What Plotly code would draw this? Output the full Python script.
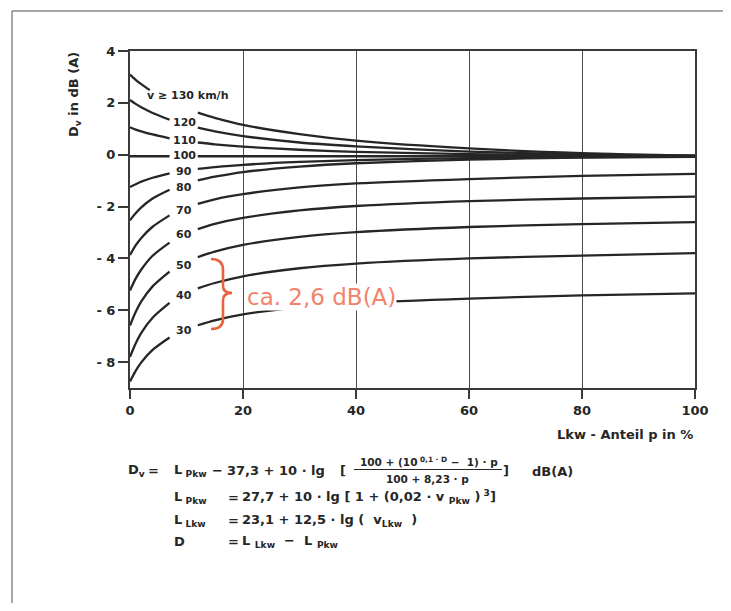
import plotly.graph_objects as go

# ---------------- data ----------------
speeds = ["130", "120", "110", "100", "90", "80", "70", "60", "50", "40", "30"]

p_left_130 = [0, 1, 2, 3.5]
p_left = [0, 1, 2, 4, 7]
p_right = [12, 15, 20, 30, 40, 60, 80, 100]

dv_left = {
    "130": [3.09, 2.89, 2.72, 2.49],
    "120": [2.11, 1.96, 1.83, 1.61, 1.35],
    "110": [1.06, 0.97, 0.90, 0.78, 0.63],
    "100": [-0.06, -0.06, -0.06, -0.06, -0.06],
    "90": [-1.25, -1.14, -1.04, -0.89, -0.72],
    "80": [-2.53, -2.26, -2.03, -1.69, -1.35],
    "70": [-3.87, -3.50, -3.21, -2.78, -2.34],
    "60": [-5.24, -4.78, -4.43, -3.90, -3.39],
    "50": [-6.59, -6.07, -5.66, -5.08, -4.51],
    "40": [-7.80, -7.28, -6.87, -6.29, -5.72],
    "30": [-8.75, -8.34, -8.01, -7.53, -7.05],
}
dv_right = {
    "130": [1.62, 1.42, 1.15, 0.79, 0.54, 0.24, 0.06, -0.04],
    "120": [1.04, 0.90, 0.72, 0.47, 0.32, 0.12, 0.01, -0.04],
    "110": [0.47, 0.40, 0.31, 0.19, 0.11, 0.02, -0.03, -0.05],
    "100": [-0.06, -0.06, -0.06, -0.06, -0.06, -0.06, -0.06, -0.06],
    "90": [-0.55, -0.48, -0.39, -0.28, -0.21, -0.13, -0.09, -0.07],
    "80": [-0.99, -0.85, -0.67, -0.46, -0.33, -0.19, -0.11, -0.08],
    "70": [-1.90, -1.72, -1.52, -1.26, -1.11, -0.94, -0.82, -0.74],
    "60": [-2.87, -2.67, -2.44, -2.15, -1.98, -1.79, -1.69, -1.62],
    "50": [-3.95, -3.74, -3.48, -3.17, -2.99, -2.79, -2.68, -2.60],
    "40": [-5.16, -4.95, -4.69, -4.38, -4.20, -4.00, -3.89, -3.80],
    "30": [-6.58, -6.39, -6.16, -5.89, -5.73, -5.55, -5.43, -5.35],
}

curve_labels = ["120", "110", "100", "90", "80", "70", "60", "50", "40", "30"]
label_y = [1.23, 0.56, -0.05, -0.63, -1.25, -2.14, -3.07, -4.27, -5.43, -6.78]

x_ticks = [0, 20, 40, 60, 80, 100]
x_ticktext = ["0", "20", "40", "60", "80", "100"]
y_ticks = [4, 2, 0, -2, -4, -6, -8]
y_ticktext = ["4", "2", "0", "- 2", "- 4", "- 6", "- 8"]

# ---------------- layout helpers ----------------
IMG_W, IMG_H = 731, 611
OFF = 8                      # default page body margin
W, H = IMG_W - 2 * OFF, IMG_H - 2 * OFF
L, R, T, B = 130, 695, 51, 388   # plot area in window pixels


def xp(px):
    return (px - L) / (R - L)


def yp(py):
    return (B - py) / (B - T)


INK = "#262626"
FONT = "DejaVu Sans, Verdana, sans-serif"
RED = "#e8623d"
SALMON = "#f2836a"

fig = go.Figure()

for v in speeds:
    pl = p_left_130 if v == "130" else p_left
    for xs, ys in ((pl, dv_left[v]), (p_right, dv_right[v])):
        fig.add_trace(go.Scatter(
            x=xs, y=ys, mode="lines",
            line=dict(color=INK, width=2.3, shape="spline", smoothing=0.8),
            showlegend=False, hoverinfo="skip",
        ))

annotations = []

# curve labels
for lab, yy in zip(curve_labels, label_y):
    annotations.append(dict(
        x=9.6, y=yy, xref="x", yref="y", text="<b>%s</b>" % lab,
        showarrow=False, font=dict(family=FONT, size=11, color=INK),
        xanchor="center", yanchor="middle",
    ))
annotations.append(dict(
    x=10.1, y=2.30, xref="x", yref="y", text="<b>v ≥ 130 km/h</b>",
    showarrow=False, font=dict(family=FONT, size=11, color=INK),
    xanchor="center", yanchor="middle",
))

# y axis title (rotated)
annotations.append(dict(
    x=xp(75), y=yp(95), xref="paper", yref="paper",
    text="<b>D<sub>v</sub> in dB (A)</b>", textangle=-90,
    showarrow=False, font=dict(family=FONT, size=13, color=INK),
    xanchor="center", yanchor="middle",
))
# x axis title
annotations.append(dict(
    x=xp(695), y=yp(434), xref="paper", yref="paper",
    text="<b>Lkw - Anteil p in %</b>",
    showarrow=False, font=dict(family=FONT, size=13, color=INK),
    xanchor="right", yanchor="middle",
))

# red annotation
annotations.append(dict(
    x=xp(246), y=yp(297), xref="paper", yref="paper",
    text="ca. 2,6 dB(A)", showarrow=False, bgcolor="white", borderpad=0,
    font=dict(family="DejaVu Sans, sans-serif", size=23, color=SALMON),
    xanchor="left", yanchor="middle",
))


def txt(px, py, s, size=13, anchor="left"):
    annotations.append(dict(
        x=xp(px), y=yp(py), xref="paper", yref="paper", text="<b>%s</b>" % s,
        showarrow=False, font=dict(family=FONT, size=size, color=INK),
        xanchor=anchor, yanchor="middle",
    ))


# formula block
txt(126, 470, "D<sub>v</sub>")
txt(146, 470, "=")
txt(172, 470, "L<sub> Pkw</sub>")
txt(210, 470, "−")
txt(225, 470, "37,3 + 10 · lg")
txt(338, 470, "[")
txt(429, 461, "100 + (10<sup> 0,1 · D</sup> −  1) · p", size=10.5, anchor="center")
txt(427, 479, "100 + 8,23 · p", size=10.5, anchor="center")
txt(501, 470, "]")
txt(530, 471, "dB(A)")

txt(172, 497, "L<sub> Pkw</sub>")
txt(226, 497, "=")
txt(240, 497, "27,7 + 10 · lg [ 1 + (0,02 · v <sub>Pkw</sub> )<sup> 3</sup>]")

txt(172, 520, "L<sub> Lkw</sub>")
txt(226, 520, "=")
txt(240, 520, "23,1 + 12,5 · lg (  v<sub>Lkw</sub>  )")

txt(172, 541, "D")
txt(226, 541, "=")
txt(240, 541, "L <sub>Lkw</sub>  −  L <sub>Pkw</sub>")

shapes = []
# fraction bar
shapes.append(dict(type="line", xref="paper", yref="paper",
                   x0=xp(354), x1=xp(502), y0=yp(469.5), y1=yp(469.5),
                   line=dict(color=INK, width=1.2)))
# outer page frame (top and left)
shapes.append(dict(type="line", xref="paper", yref="paper",
                   x0=xp(12), x1=xp(731), y0=yp(11), y1=yp(11),
                   line=dict(color="#8a8a8a", width=1.5)))
shapes.append(dict(type="line", xref="paper", yref="paper",
                   x0=xp(12), x1=xp(12), y0=yp(11), y1=yp(611),
                   line=dict(color="#8a8a8a", width=1.5)))

# red curly brace
pts = [
    ("M", [(211, 259)]),
    ("C", [(218, 259), (223, 262), (223, 270)]),
    ("L", [(223, 286)]),
    ("C", [(223, 291), (226, 293), (232, 293)]),
    ("C", [(226, 293), (223, 295), (223, 300)]),
    ("L", [(223, 319)]),
    ("C", [(223, 326), (218, 329), (211, 329)]),
]
path = " ".join(
    cmd + " " + " ".join("%.5f,%.5f" % (xp(a), yp(b)) for a, b in coords)
    for cmd, coords in pts
)
shapes.append(dict(type="path", xref="paper", yref="paper", path=path,
                   line=dict(color=RED, width=2.6)))

fig.update_layout(
    width=W, height=H,
    margin=dict(l=L - OFF, r=W - (R - OFF), t=T - OFF, b=H - (B - OFF), pad=0),
    paper_bgcolor="white", plot_bgcolor="white",
    showlegend=False,
    annotations=annotations,
    shapes=shapes,
    xaxis=dict(
        range=[0, 100], tickvals=x_ticks, ticktext=x_ticktext,
        showgrid=True, gridcolor="#4a4a4a", gridwidth=1.4,
        showline=True, linecolor="#3a3a3a", linewidth=2, mirror=True,
        ticks="outside", ticklen=9, tickwidth=1.6, tickcolor="#3a3a3a",
        tickfont=dict(family=FONT, size=13, color=INK, weight="bold"),
        zeroline=False, fixedrange=True,
    ),
    yaxis=dict(
        range=[-9, 4], tickvals=y_ticks, ticktext=y_ticktext,
        showgrid=False,
        showline=True, linecolor="#3a3a3a", linewidth=2, mirror=True,
        ticks="outside", ticklen=10, tickwidth=1.6, tickcolor="#3a3a3a",
        tickfont=dict(family=FONT, size=13, color=INK, weight="bold"),
        zeroline=False, fixedrange=True,
    ),
)

fig.write_html("out.html")
